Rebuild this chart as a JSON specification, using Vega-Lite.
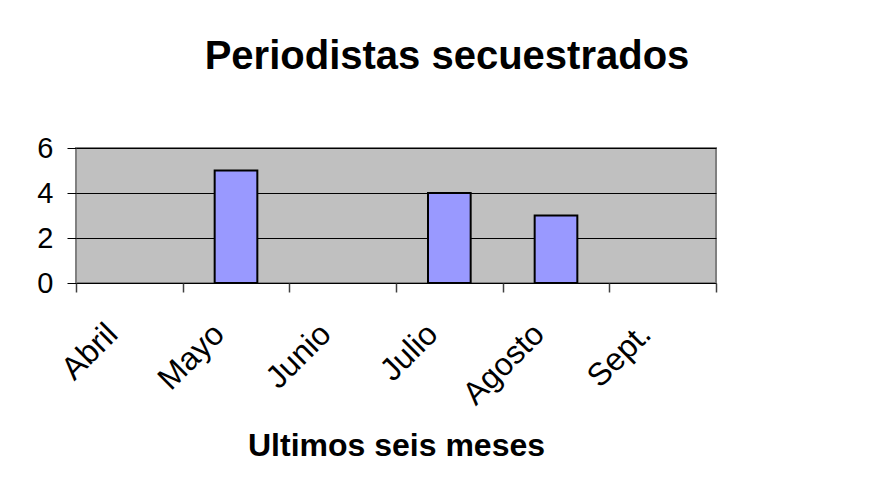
{
  "$schema": "https://vega.github.io/schema/vega-lite/v6.json",
  "width": 640,
  "height": 135,
  "autosize": "none",
  "padding": {"left": 76, "top": 148, "right": 165, "bottom": 209},
  "background": "white",
  "title": {
    "text": "Periodistas secuestrados",
    "font": "Liberation Sans",
    "fontSize": 40,
    "fontWeight": "bold",
    "color": "black",
    "frame": "group",
    "anchor": "middle",
    "dx": 51,
    "offset": 57
  },
  "data": {
    "values": [
      {"mes": "Abril", "periodistas": 0},
      {"mes": "Mayo", "periodistas": 5},
      {"mes": "Junio", "periodistas": 0},
      {"mes": "Julio", "periodistas": 4},
      {"mes": "Agosto", "periodistas": 3},
      {"mes": "Sept.", "periodistas": 0}
    ]
  },
  "mark": {"type": "bar", "fill": "#9999FF", "stroke": "black", "strokeWidth": 2, "width": {"band": 0.4}},
  "encoding": {
    "x": {
      "field": "mes",
      "type": "nominal",
      "sort": null,
      "scale": {"paddingInner": 0, "paddingOuter": 0},
      "axis": {
        "title": "Ultimos seis meses",
        "titleFont": "Liberation Sans",
        "titleFontSize": 32,
        "titleFontWeight": "bold",
        "titleColor": "black",
        "titleBaseline": "middle",
        "titleY": 162,
        "labelAngle": -45,
        "labelFont": "Liberation Sans",
        "labelFontSize": 32,
        "labelColor": "black",
        "labelPadding": 26,
        "labelOffset": -28,
        "tickBand": "extent",
        "tickSize": 9,
        "tickColor": "#404040",
        "tickWidth": 1.5,
        "domain": false,
        "grid": false
      }
    },
    "y": {
      "field": "periodistas",
      "type": "quantitative",
      "scale": {"domain": [0, 6], "nice": false},
      "axis": {
        "title": null,
        "values": [0, 2, 4, 6],
        "labelFont": "Liberation Sans",
        "labelFontSize": 29,
        "labelColor": "black",
        "labelPadding": 14,
        "tickSize": 9,
        "tickColor": "black",
        "domain": false,
        "grid": true,
        "gridColor": "black",
        "gridOpacity": 1,
        "gridWidth": 1.2
      }
    },
    "strokeOpacity": {
      "condition": {"test": "datum.periodistas == 0", "value": 0},
      "value": 1
    }
  },
  "config": {
    "view": {"fill": "#C0C0C0", "stroke": "#808080", "strokeWidth": 2}
  }
}
